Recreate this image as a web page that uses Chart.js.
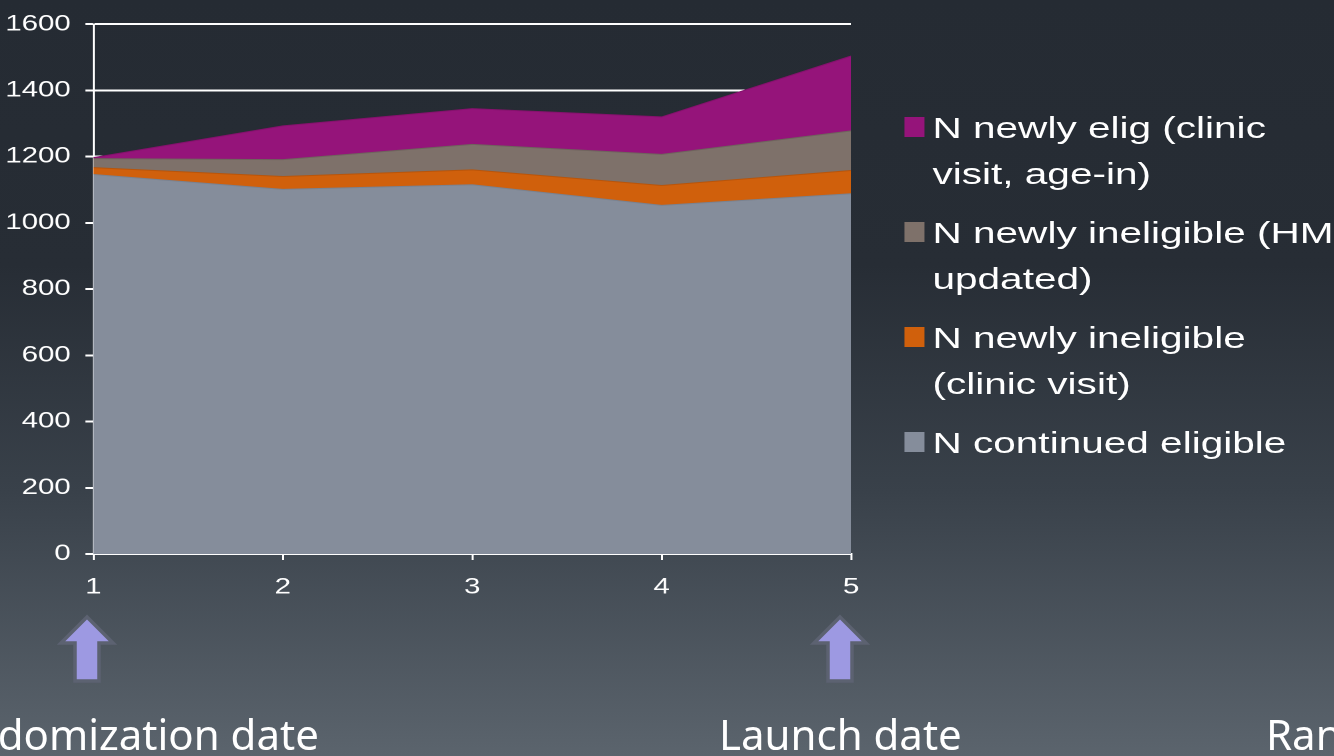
<!DOCTYPE html>
<html>
<head>
<meta charset="utf-8">
<script src="https://cdn.jsdelivr.net/npm/chart.js@4/dist/chart.umd.min.js"></script>
<style>
  html, body { margin: 0; padding: 0; width: 1334px; height: 756px; overflow: hidden; }
  body {
    position: relative;
    background: linear-gradient(to bottom, #252b33 0%, #272d35 35%, #39414a 65%, #5b646d 100%);
    font-family: "Liberation Sans", Arial, sans-serif;
  }
  /* chart block is laid out narrow, then stretched sideways */
  #stage { position: absolute; left: 0; top: 0; width: 1000px; height: 620px; transform: scaleX(1.334); transform-origin: 0 0; }
  #chart { position: absolute; left: 0; top: 0; }
  #legend { position: absolute; left: 678px; top: 104px; margin: 0; padding: 0; list-style: none; color: #fff; font-size: 30.4px; line-height: 46px; }
  #legend li { position: relative; padding-left: 21px; margin-bottom: 13px; white-space: pre; }
  #legend .box { position: absolute; left: 0; top: 13px; width: 15px; height: 20px; }
  #notes { position: absolute; left: 0; top: 0; font-variant-ligatures: none; }
</style>
</head>
<body>
<div id="stage">
  <canvas id="chart" width="670" height="610"></canvas>
  <ul id="legend"></ul>
</div>
<svg id="notes" width="1334" height="756">
  <g id="arrows" fill="#9d99e2" stroke="#5c6271" stroke-width="3.5"></g>
  <g font-family="Noto Sans" font-size="42" fill="#fff">
    <text x="-78" y="750">Randomization date</text>
    <text x="719" y="750">Launch date</text>
    <text x="1266" y="750">Randomization date</text>
  </g>
</svg>
<script>
// time points
const periods = ['1', '2', '3', '4', '5'];

// stacked counts, bottom layer first
const continuedEligible = [1146, 1101, 1115, 1053, 1088];
const ineligibleClinic = [21, 39, 45, 60, 70];
const ineligibleHmo = [27, 51, 77, 94, 120];
const newlyEligible = [3, 102, 108, 113, 226];

const seriesNames = [
    'N continued eligible',
    'N newly ineligible\n(clinic visit)',
    'N newly ineligible (HMO\nupdated)',
    'N newly elig (clinic\nvisit, age-in)'
];
const seriesColors = ['#858d9b', '#d0600c', '#7e716a', '#95147a'];
const edgeColors = ['#7a8290', '#b9550b', '#6f635d', '#84126c'];

const yMin = 0, yMax = 1600, yStep = 200;

const tickFont = { family: 'Liberation Sans', size: 22 };

const chart = new Chart(document.getElementById('chart'), {
    type: 'line',
    data: {
        labels: periods,
        datasets: [continuedEligible, ineligibleClinic, ineligibleHmo, newlyEligible].map((values, i) => ({
            label: seriesNames[i],
            data: values,
            backgroundColor: seriesColors[i],
            borderColor: edgeColors[i],
            borderWidth: 1,
            fill: i === 0 ? 'origin' : '-1',
            pointRadius: 0,
            tension: 0
        }))
    },
    options: {
        responsive: false,
        animation: false,
        devicePixelRatio: 2,
        layout: { padding: { top: 22, right: 32, left: 0, bottom: 0 } },
        plugins: { legend: { display: false }, tooltip: { enabled: false } },
        scales: {
            x: {
                offset: false,
                grid: { drawOnChartArea: false, color: '#fff', lineWidth: 1.5, tickLength: 6 },
                border: { color: '#fff', width: 2 },
                ticks: { color: '#fff', font: tickFont, padding: 14, maxRotation: 0 },
                afterFit: scale => { scale.height = 56; }
            },
            y: {
                stacked: true,
                min: yMin,
                max: yMax,
                grid: { color: '#fff', lineWidth: 2, tickLength: 6 },
                border: { color: '#fff', width: 1.5 },
                ticks: { stepSize: yStep, color: '#fff', font: tickFont, padding: 11, callback: v => String(v) },
                afterFit: scale => { scale.width = 70; }
            }
        }
    }
});

// legend on the right, top series first
const legend = document.getElementById('legend');
chart.data.datasets.slice().reverse().forEach(ds => {
    const li = document.createElement('li');
    const box = document.createElement('span');
    box.className = 'box';
    box.style.background = ds.backgroundColor;
    li.appendChild(box);
    li.appendChild(document.createTextNode(ds.label));
    legend.appendChild(li);
});

// up arrows under the axis
const arrows = document.getElementById('arrows');
[87, 840].forEach(c => {
    const p = document.createElementNS('http://www.w3.org/2000/svg', 'polygon');
    p.setAttribute('points', [
        [c, 617], [c + 26, 643], [c + 12, 643], [c + 12, 681],
        [c - 12, 681], [c - 12, 643], [c - 26, 643]
    ].map(pt => pt.join(',')).join(' '));
    arrows.appendChild(p);
});
</script>
</body>
</html>
